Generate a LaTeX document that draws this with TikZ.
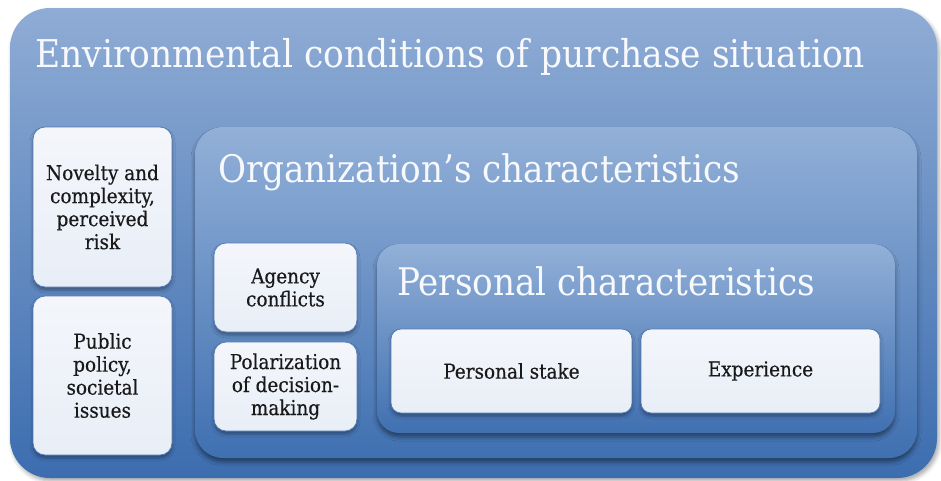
\documentclass[tikz,border=0pt]{standalone}
\usepackage{fontspec}
\setmainfont{DejaVu Serif Condensed}
\newfontfamily\boxfont[FakeBold=0.4]{DejaVu Serif Condensed}
\usetikzlibrary{shadows.blur}
\definecolor{bluetop}{RGB}{143,172,213}
\definecolor{bluebot}{RGB}{60,109,175}
\definecolor{innertop}{RGB}{146,176,216}
\definecolor{innerbot}{RGB}{64,112,177}
\definecolor{boxtop}{RGB}{244,246,251}
\definecolor{boxbot}{RGB}{232,238,247}
\definecolor{boxline}{RGB}{84,124,180}
\definecolor{titlecol}{RGB}{247,249,252}
\definecolor{txtcol}{RGB}{25,25,25}
\tikzset{
  outerbox/.style={rounded corners=40pt, top color=bluetop, bottom color=bluebot, draw=none,
    blur shadow={shadow xshift=2pt, shadow yshift=-3pt, shadow blur radius=4pt, shadow opacity=35}},
  groupbox/.style={rounded corners=28pt, top color=innertop, bottom color=innerbot, draw=none,
    blur shadow={shadow xshift=0pt, shadow yshift=-4pt, shadow blur radius=4pt, shadow opacity=45}},
  whitebox/.style={rounded corners=12pt, top color=boxtop, bottom color=boxbot, draw=boxline, line width=0.8pt,
    align=center, text=txtcol, font=\boxfont\fontsize{20.5}{23}\selectfont, inner sep=0pt,
    blur shadow={shadow xshift=0pt, shadow yshift=-3pt, shadow blur radius=3pt, shadow opacity=35}},
  titletext/.style={anchor=base west, inner sep=0pt, text=titlecol, font=\fontsize{38}{40}\selectfont},
}
\begin{document}
\begin{tikzpicture}[x=1pt,y=-1pt]
\useasboundingbox (0,0) rectangle (941,480);
\node[outerbox, minimum width=927pt, minimum height=470pt] (outer) at (473.5,243) {};
\node[titletext, font=\fontsize{38.3}{40}\selectfont] (ttl) at (35,67) {Environmental conditions of purchase situation};
\node[whitebox, minimum width=139pt, minimum height=160pt] (nov) at (102.5,207) {Novelty and\\complexity,\\perceived\\risk};
\node[whitebox, minimum width=139pt, minimum height=159pt] (pub) at (102.5,375.5) {Public\\policy,\\societal\\issues};
\node[groupbox, minimum width=722pt, minimum height=331pt] (org) at (556,292.5) {};
\node[titletext] (orgt) at (218,182) {Organization’s characteristics};
\node[whitebox, minimum width=143pt, minimum height=89pt] (agc) at (285.5,287.5) {Agency\\conflicts};
\node[whitebox, minimum width=143pt, minimum height=89pt] (pol) at (285.5,386.5) {Polarization\\of decision-\\making};
\node[groupbox, rounded corners=22pt, minimum width=518pt, minimum height=189pt] (pers) at (636,338.5) {};
\node[titletext] (perst) at (397,295) {Personal characteristics};
\node[whitebox, rounded corners=10pt, minimum width=241pt, minimum height=84pt] (stk) at (511.5,371) {Personal stake};
\node[whitebox, rounded corners=10pt, minimum width=239pt, minimum height=84pt] (exp) at (760.5,371) {Experience};
\end{tikzpicture}
\end{document}
